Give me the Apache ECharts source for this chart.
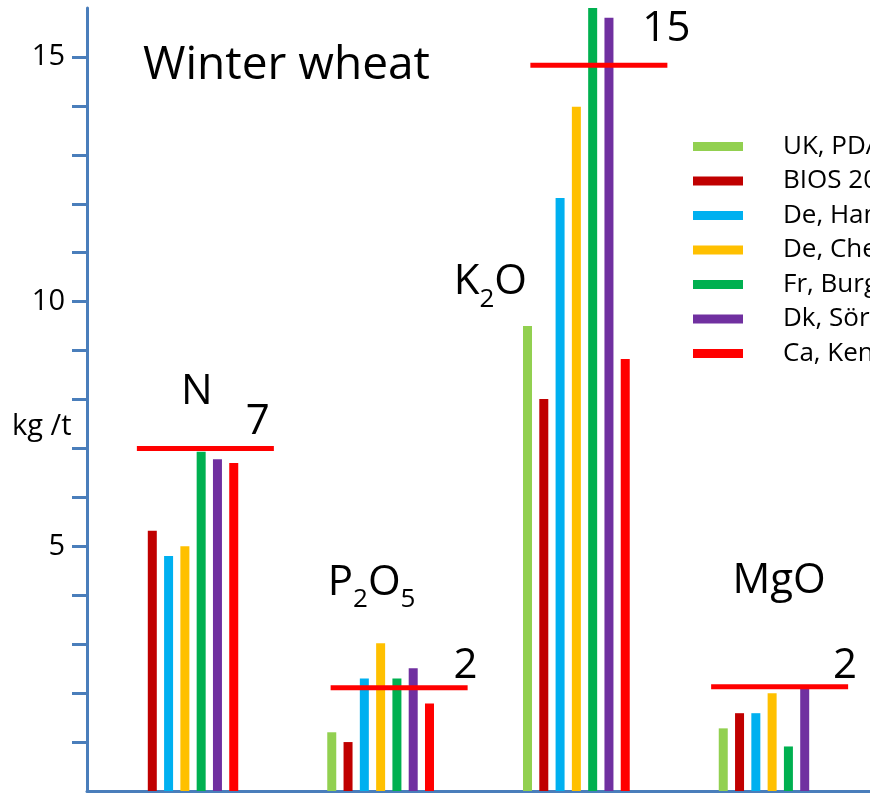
<!DOCTYPE html>
<html>
<head>
<meta charset="utf-8">
<script src="https://cdn.jsdelivr.net/npm/echarts@6/dist/echarts.min.js"></script>
<style>
html,body{margin:0;padding:0;background:#fff;}
#chart{width:870px;height:794px;}
</style>
</head>
<body>
<div id="chart"></div>
<script>
// ---- data ----
const categories = ['N', 'P2O5', 'K2O', 'MgO'];
const seriesNames = ['UK, PDA', 'BIOS 2012', 'De, Hamburg', 'De, Chemnitz', 'Fr, Burgundy', 'Dk, Sörensen', 'Ca, Kentville'];
const ukValues   = [null, 1.20, 9.50, 1.28];
const biosValues = [5.32, 1.00, 8.01, 1.59];
const deHaValues = [4.80, 2.30, 12.12, 1.59];
const deChValues = [5.00, 3.02, 13.98, 2.00];
const frValues   = [6.93, 2.30, 16.00, 0.91];
const dkValues   = [6.78, 2.51, 15.80, 2.09];
const caValues   = [6.70, 1.79, 8.83, null];
const targetValues = [7.00, 2.11, 14.83, 2.13];
const targetLabels = ['7', '2', '15', '2'];
const yTickValues = [1, 2, 3, 4, 5, 6, 7, 8, 9, 10, 11, 12, 13, 14, 15];
const yLabelValues = [5, 10, 15];

// ---- styling ----
const FONT = 'Open Sans';
const AXIS_COLOR = '#4A7EBB';
const colors = ['#92D050', '#C00000', '#00B0F0', '#FFC000', '#00B050', '#7030A0', '#FF0000'];
const allValues = [ukValues, biosValues, deHaValues, deChValues, frValues, dkValues, caValues];
const MAIN_SIZE = 42, SUB_SIZE = 26, SUB_DROP = 17;
// pixel offsets of annotations relative to group centre / target line
const annotLayout = [
  {l0: -48, l1: 89, nx: 12, ny: -56, vx: 73, vy: -26},
  {l0: -50, l1: 87, nx: -9, ny: -105, vx: 85, vy: -22},
  {l0: -46, l1: 91, nx: -86, ny: 217, vx: 90, vy: -36},
  {l0: -61, l1: 76, nx: 7, ny: -106, vx: 73, vy: -21}
];

const measureCtx = document.createElement('canvas').getContext('2d');
function textWidth(t, size) {
  measureCtx.font = size + 'px "' + FONT + '"';
  return measureCtx.measureText(t).width;
}
// split a chemical formula into normal / subscript fragments
function fragments(name) {
  const out = [];
  name.split(/(\d+)/).forEach(part => {
    if (!part) return;
    const sub = /^\d+$/.test(part);
    out.push({t: part, sub: sub, w: textWidth(part, sub ? SUB_SIZE : MAIN_SIZE)});
  });
  return out;
}

const barSeries = seriesNames.map((name, i) => ({
  name: name,
  type: 'bar',
  data: allValues[i],
  barWidth: 9,
  barGap: '81%',
  itemStyle: {color: colors[i]},
  z: 2
}));

const targetSeries = {
  name: 'targets',
  type: 'custom',
  coordinateSystem: 'cartesian2d',
  data: targetValues.map((v, i) => [i, v]),
  encode: {x: 0, y: 1},
  z: 10,
  silent: true,
  renderItem: function (params, api) {
    const idx = params.dataIndex;
    const p = api.coord([api.value(0), api.value(1)]);
    const L = annotLayout[idx];
    const cx = p[0], cy = p[1];
    const children = [
      {
        type: 'line',
        shape: {x1: cx + L.l0, y1: cy, x2: cx + L.l1, y2: cy},
        style: {stroke: '#FF0000', lineWidth: 5}
      },
      {
        type: 'text',
        x: cx + L.vx, y: cy + L.vy,
        style: {
          text: targetLabels[idx], fill: '#000', fontSize: MAIN_SIZE, fontFamily: FONT,
          align: 'center', verticalAlign: 'middle'
        }
      }
    ];
    const frs = fragments(categories[idx]);
    const total = frs.reduce((s, f) => s + f.w, 0);
    let x = cx + L.nx - total / 2;
    const y = cy + L.ny;
    frs.forEach(f => {
      children.push({
        type: 'text',
        x: x, y: f.sub ? y + SUB_DROP : y,
        style: {
          text: f.t, fill: '#000', fontSize: f.sub ? SUB_SIZE : MAIN_SIZE, fontFamily: FONT,
          align: 'left', verticalAlign: 'middle'
        }
      });
      x += f.w;
    });
    return {type: 'group', children: children};
  }
};

const chart = echarts.init(document.getElementById('chart'), null, {renderer: 'canvas'});
chart.setOption({
  animation: false,
  backgroundColor: '#fff',
  grid: {left: 87, right: 0, top: 8, bottom: 3, containLabel: false},
  xAxis: {
    type: 'category',
    data: categories,
    axisLine: {show: true, lineStyle: {color: AXIS_COLOR, width: 3}},
    axisTick: {show: false},
    axisLabel: {show: false},
    splitLine: {show: false}
  },
  yAxis: {
    type: 'value',
    min: 0,
    max: 16,
    interval: 1,
    axisLine: {show: true, lineStyle: {color: AXIS_COLOR, width: 3}},
    axisTick: {show: true, length: 15, inside: false, customValues: yTickValues,
      lineStyle: {color: AXIS_COLOR, width: 3}},
    axisLabel: {show: true, customValues: yLabelValues, margin: 22, color: '#000',
      fontSize: 29, fontFamily: FONT},
    splitLine: {show: false}
  },
  legend: {
    show: true,
    data: seriesNames,
    orient: 'vertical',
    left: 693,
    top: 133.5,
    padding: 0,
    itemWidth: 50,
    itemHeight: 9,
    itemGap: 8.5,
    icon: 'rect',
    selectedMode: false,
    textStyle: {color: '#000', fontSize: 26, fontFamily: FONT, lineHeight: 24, padding: [0, 0, 0, 35]}
  },
  graphic: [
    {
      type: 'text', left: 143, top: 43,
      style: {text: 'Winter wheat', fill: '#000', fontSize: 46, fontFamily: FONT}
    },
    {
      type: 'text', x: 12, y: 427,
      style: {text: 'kg /t', fill: '#000', fontSize: 29, fontFamily: FONT, verticalAlign: 'middle'}
    }
  ],
  series: barSeries.concat([targetSeries])
});
</script>
</body>
</html>
